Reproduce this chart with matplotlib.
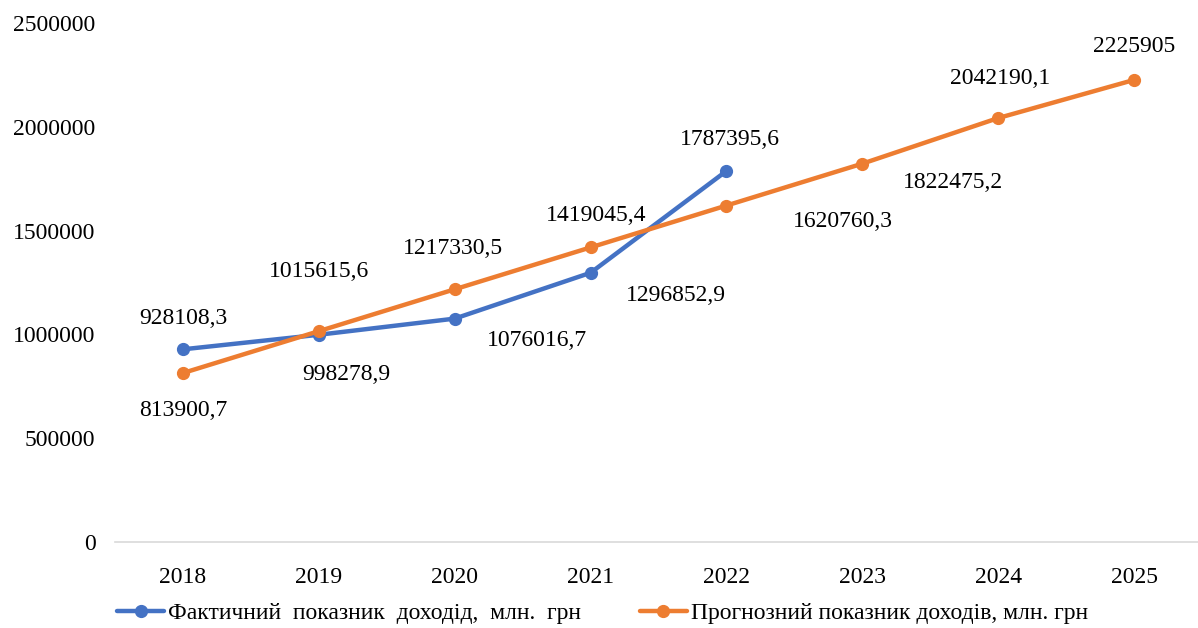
import matplotlib
matplotlib.use("Agg")
import matplotlib.pyplot as plt

plt.rcParams['font.family'] = ['Liberation Serif', 'DejaVu Serif']

years = ['2018', '2019', '2020', '2021', '2022', '2023', '2024', '2025']
actual = [928108.3, 998278.9, 1076016.7, 1296852.9, 1787395.6]
forecast = [813900.7, 1015615.6, 1217330.5, 1419045.4, 1620760.3,
            1822475.2, 2042190.1, 2225905.0]
actual_name = 'Фактичний  показник  доходід,  млн.  грн'
forecast_name = 'Прогнозний показник доходів, млн. грн'

# label offsets in pixels (dx, dy), screen y goes up
actual_offsets = [(0, 31), (27, -40), (82, -22), (85, -23), (3, 31)]
forecast_offsets = [(0, -37), (0, 60), (-2, 41), (6, 32), (116, -16),
                    (91, -19), (2, 40), (0, 33)]

blue = '#4472C4'
orange = '#ED7D31'


def fmt(v):
    s = f"{v:.1f}".replace('.', ',')
    if s.endswith(',0'):
        s = s[:-2]
    return s


fig = plt.figure(figsize=(11.98, 6.28), dpi=100)
ax = fig.add_axes([115 / 1198, 1 - 542 / 628, (1198 - 115) / 1198, 519 / 628])

x_act = list(range(len(actual)))
x_fc = list(range(len(forecast)))
ax.plot(x_act, actual, color=blue, lw=3.2, marker='o', ms=8.5,
        solid_capstyle='round', label=actual_name, zorder=3)
ax.plot(x_fc, forecast, color=orange, lw=3.2, marker='o', ms=8.5,
        solid_capstyle='round', label=forecast_name, zorder=4)

fs = 17
for i, v in enumerate(actual):
    dx, dy = actual_offsets[i]
    ax.annotate(fmt(v), (i, v), xytext=(dx * 0.72, dy * 0.72),
                textcoords='offset points', ha='center', va='center', fontsize=fs)
for i, v in enumerate(forecast):
    dx, dy = forecast_offsets[i]
    ax.annotate(fmt(v), (i, v), xytext=(dx * 0.72, dy * 0.72),
                textcoords='offset points', ha='center', va='center', fontsize=fs)

ax.set_xlim(-0.5, 7.47)
ax.set_ylim(0, 2500000)
ax.set_yticks(range(0, 2500001, 500000))
ax.set_yticklabels([str(t) for t in range(0, 2500001, 500000)])
ax.set_xticks(x_fc)
ax.set_xticklabels(years)
ax.tick_params(axis='both', length=0, labelsize=fs)
ax.tick_params(axis='y', pad=14)
ax.tick_params(axis='x', pad=18)
for s in ['top', 'right', 'left']:
    ax.spines[s].set_visible(False)
ax.spines['bottom'].set_color('#d9d9d9')
ax.spines['bottom'].set_linewidth(1.2)
ax.set_clip_on(False)

fig.legend(loc='center left', bbox_to_anchor=(117 / 1198, 1 - 613 / 628), ncol=2,
           frameon=False, fontsize=fs, handlelength=2.0, handletextpad=0.15,
           columnspacing=2.5, borderaxespad=0, borderpad=0)

fig.savefig('out.png', dpi=100)
